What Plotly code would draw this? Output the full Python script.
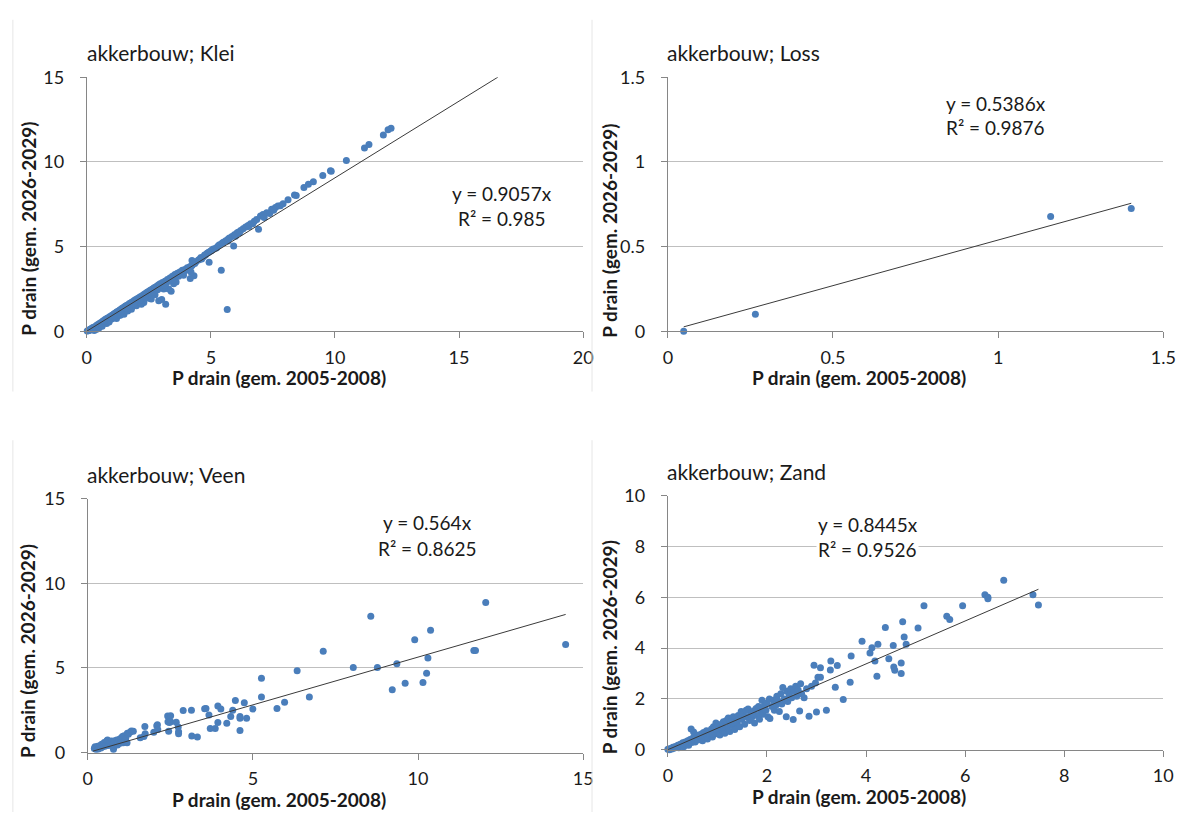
import plotly.graph_objects as go

W, H = 1194, 822

# ---------------- data ----------------
klei_x = [0.02,0.05,0.08,0.1,0.12,0.15,0.18,0.2,0.22,0.25,0.28,0.3,0.32,0.35,0.38,0.4,0.42,0.45,0.48,0.5,
          0.52,0.55,0.58,0.6,0.62,0.65,0.68,0.7,0.72,0.75,0.78,0.8,0.82,0.85,0.88,0.9,0.92,0.95,0.98,1.0,
          1.02,1.05,1.08,1.1,1.12,1.15,1.18,1.2,1.22,1.25,1.28,1.3,1.33,1.36,1.4,1.42,1.45,1.48,1.5,1.52,
          1.55,1.58,1.6,1.63,1.66,1.7,1.72,1.75,1.78,1.8,1.83,1.86,1.9,1.93,1.96,2.0,2.03,2.06,2.1,2.13,
          2.16,2.2,2.23,2.26,2.3,2.33,2.36,2.4,2.43,2.46,2.5,2.53,2.56,2.6,2.63,2.66,2.7,2.73,2.76,2.8,
          2.83,2.86,2.9,2.93,2.96,3.0,3.05,3.1,3.15,3.2,3.25,3.3,3.35,3.4,3.45,3.5,3.55,3.6,3.65,3.7,
          3.75,3.8,3.85,3.9,3.95,4.0,4.05,4.1,4.15,4.2,4.25,4.35,4.4,4.5,4.55,4.6,4.7,4.75,4.85,4.9,
          4.95,5.05,5.1,5.2,5.3,5.35,5.45,5.5,5.6,5.7,5.75,5.85,5.95,6.05,6.1,6.2,6.3,6.4,6.5,6.6,
          6.75,6.85,7.0,7.1,7.25,7.45,7.6,7.7,
          2.0,2.3,2.6,2.9,3.02,3.18,3.4,3.3,3.6,4.17,4.32,4.93,5.42,5.66,5.92,6.92,1.5,1.8,1.2,2.2,
          2.5,2.75,3.1,3.5,3.9,4.2,0.6,0.9,1.35,1.65,
          7.15,7.37,7.53,7.8,7.91,8.11,8.37,8.44,8.75,8.93,9.13,9.51,9.82,9.85,10.46,11.19,11.37,11.95,12.14,12.26,
          4.24,4.63,4.78,5.01,5.24,5.69,5.99,6.15,6.53,6.69,
          0.7,1.0,1.4,1.7,1.9,2.15,2.45,2.65,2.85,3.15,3.45,3.7,1.1,1.6,2.35]
klei_y = [0.02,0.03,0.06,0.05,0.1,0.12,0.1,0.17,0.12,0.22,0.2,0.05,0.27,0.25,0.1,0.36,0.3,0.4,0.35,0.2,
          0.47,0.42,0.52,0.45,0.3,0.6,0.55,0.64,0.5,0.7,0.62,0.45,0.76,0.7,0.8,0.6,0.86,0.78,0.9,0.72,
          0.95,0.88,1.0,0.8,1.05,0.98,1.1,0.9,1.15,1.05,1.2,0.95,1.25,1.15,1.32,1.1,1.37,1.25,1.42,1.2,
          1.47,1.35,1.52,1.3,1.57,1.45,1.63,1.4,1.68,1.55,1.73,1.5,1.8,1.65,1.86,1.7,1.92,1.75,1.98,1.8,
          2.04,1.9,2.1,1.85,2.17,2.0,2.23,2.05,2.3,2.1,2.36,2.2,2.42,2.25,2.48,2.3,2.55,2.4,2.6,2.45,
          2.67,2.5,2.75,2.55,2.8,2.65,2.87,2.75,2.95,2.85,3.05,2.95,3.15,3.05,3.25,3.15,3.35,3.25,3.42,3.35,
          3.5,3.45,3.6,3.5,3.65,3.6,3.75,3.7,3.8,3.82,3.9,4.0,4.1,4.2,4.25,4.35,4.4,4.5,4.6,4.65,
          4.7,4.8,4.85,4.9,5.05,5.1,5.2,5.25,5.35,5.45,5.5,5.6,5.7,5.8,5.85,5.95,6.05,6.15,6.25,6.35,
          6.5,6.6,6.8,6.9,7.0,7.2,7.3,7.4,
          1.5,1.7,1.9,1.8,1.88,1.59,2.36,2.5,2.9,3.12,3.28,4.08,3.6,1.28,5.04,6.02,1.0,1.3,0.75,1.6,
          1.95,2.15,2.5,2.8,3.3,3.5,0.35,0.55,0.95,1.2,
          6.72,6.95,7.15,7.41,7.53,7.76,8.05,8.01,8.49,8.68,8.83,9.2,9.48,9.44,10.08,10.82,11.02,11.59,11.9,11.99,
          4.18,4.27,4.5,4.75,4.94,5.33,5.61,5.8,6.19,6.34,
          0.58,0.82,1.18,1.45,1.62,1.85,2.12,2.28,2.45,2.7,3.0,3.25,0.85,1.35,2.0]
klei_slope = 0.9057
klei_r2 = "0.985"

loss_x = [0.048, 0.265, 1.159, 1.403]
loss_y = [0.0, 0.10, 0.677, 0.725]
loss_slope = 0.5386
loss_r2 = "0.9876"

veen_x = [0.2,0.22,0.25,0.28,0.3,0.32,0.35,0.38,0.4,0.42,0.45,0.48,0.5,0.52,0.55,0.58,0.6,0.62,0.65,0.68,
          0.7,0.72,0.75,0.78,0.79,0.8,0.82,0.85,0.88,0.9,0.92,0.95,0.98,1.0,1.02,1.05,1.08,1.1,1.12,1.15,
          1.19,1.2,1.23,1.28,1.32,1.38,1.59,1.73,1.74,1.7,2.0,2.09,2.11,2.12,2.42,2.43,2.47,2.51,2.51,2.68,
          2.45,2.74,2.75,2.75,2.89,3.14,3.15,3.32,3.54,3.58,3.67,3.71,3.86,3.94,3.94,4.03,4.21,4.33,4.39,4.47,
          4.61,4.61,4.61,4.74,4.81,5.0,5.26,5.26,5.73,5.96,6.34,6.71,7.13,8.04,8.57,8.77,9.22,9.36,9.61,9.9,
          10.15,10.26,10.3,10.38,11.69,11.74,12.05,14.47]
veen_y = [0.25,0.35,0.2,0.3,0.38,0.22,0.3,0.42,0.28,0.5,0.35,0.45,0.6,0.38,0.48,0.7,0.75,0.42,0.55,0.62,
          0.45,0.68,0.5,0.2,0.35,0.6,0.7,0.55,0.75,0.45,0.62,0.78,0.55,0.85,0.65,0.95,0.58,1.0,0.7,0.84,
          0.59,1.15,1.09,1.2,1.28,1.26,0.88,1.55,1.11,0.95,1.21,1.59,1.65,1.36,2.16,1.82,1.78,2.18,1.82,1.8,
          1.26,1.51,1.23,1.11,2.49,2.51,0.98,0.92,2.59,2.61,2.22,1.42,1.42,2.76,1.78,2.57,1.74,2.13,2.51,3.08,
          2.13,2.03,1.3,2.95,2.03,2.57,4.39,3.28,2.61,2.97,4.83,3.28,5.98,5.02,8.05,5.02,3.72,5.25,4.10,6.67,
          4.14,4.69,5.59,7.22,6.03,6.03,8.87,6.38]
veen_slope = 0.564
veen_r2 = "0.8625"

zand_x = [0.0,0.03,0.05,0.08,0.1,0.12,0.15,0.18,0.2,0.22,0.25,0.28,0.3,0.32,0.35,0.38,0.4,0.42,0.45,0.47,
          0.48,0.5,0.52,0.55,0.57,0.6,0.62,0.65,0.68,0.7,0.72,0.75,0.78,0.8,0.82,0.85,0.88,0.9,0.92,0.95,
          0.97,1.0,1.02,1.05,1.08,1.1,1.12,1.15,1.18,1.2,1.22,1.25,1.28,1.3,1.32,1.35,1.38,1.4,1.42,1.45,
          1.48,1.5,1.52,1.55,1.58,1.6,1.62,1.65,1.68,1.7,1.73,1.75,1.78,1.8,1.83,1.85,1.88,1.9,1.92,1.95,
          1.98,2.0,2.02,2.05,2.06,2.1,2.13,2.15,2.18,2.2,2.23,2.25,2.28,2.3,2.32,2.35,2.39,2.4,2.42,2.45,
          2.48,2.5,2.53,2.55,2.58,2.6,2.63,2.66,2.68,2.7,2.75,2.8,2.85,2.9,2.95,2.98,3.0,3.03,3.08,3.08,
          3.2,3.28,3.29,3.38,3.42,3.54,3.68,3.7,3.92,4.08,4.12,4.18,4.22,4.24,4.39,4.46,4.55,4.56,4.58,4.71,
          4.71,4.74,4.77,4.81,5.05,5.17,5.63,5.69,5.95,6.40,6.46,6.46,6.78,7.37,7.48,
          0.6,0.9,1.1,1.3,1.5,1.7,0.35,0.65,0.95,1.25,1.45,1.95,2.2]
zand_y = [0.02,0.0,0.05,0.03,0.1,0.06,0.13,0.1,0.18,0.08,0.22,0.15,0.27,0.12,0.3,0.2,0.35,0.18,0.4,0.82,
          0.28,0.45,0.7,0.3,0.5,0.38,0.58,0.45,0.62,0.35,0.68,0.5,0.75,0.42,0.72,0.55,0.82,0.5,0.9,0.62,
          1.05,0.7,0.95,0.58,1.0,0.78,1.1,0.65,1.15,0.85,1.25,0.72,1.2,0.95,1.3,0.8,1.1,1.0,1.35,0.9,
          1.5,1.2,1.4,1.0,1.55,1.3,1.6,1.15,1.45,1.3,1.52,1.05,1.62,1.35,1.7,1.2,1.5,1.95,1.4,1.75,
          1.55,1.85,1.3,2.0,1.23,1.7,1.95,1.55,1.75,2.1,1.9,1.5,2.2,1.8,2.45,2.0,1.3,2.3,1.9,2.15,
          2.4,2.05,1.19,2.3,2.5,2.1,2.35,1.52,2.6,2.2,2.05,2.4,1.32,2.5,3.33,2.63,1.48,2.85,2.85,3.23,
          1.55,3.14,3.49,2.46,3.32,1.98,2.66,3.69,4.27,3.81,4.01,3.49,2.89,4.15,4.81,3.58,4.10,3.26,3.13,3.41,
          3.0,5.04,4.44,4.15,4.79,5.67,5.25,5.13,5.67,6.10,6.0,5.94,6.67,6.10,5.70,
          0.4,0.62,0.88,1.05,1.28,1.42,0.25,0.55,0.82,1.08,1.2,1.6,1.95]
zand_slope = 0.8445
zand_r2 = "0.9526"

# ---------------- styling ----------------
FONT = "Lato, 'Open Sans', sans-serif"
BLUE = "#4A7EBB"
GRID = "#BFBFBF"
AXIS = "#868686"
TXT = "#1a1a1a"

# px boxes: (left, right, top, bottom)
panels = [
    dict(x=klei_x, y=klei_y, slope=klei_slope, r2=klei_r2, title="akkerbouw; Klei",
         box=(83, 587, 67, 328), xr=[0, 20], xd=5, yr=[0, 15], yd=5, fit=(0.0, None),
         title_pos=(81, 42), eq_pos=(505, 186, 212), xt_pos=(278, 376), yt_pos=(23, 223)),
    dict(x=loss_x, y=loss_y, slope=loss_slope, r2=loss_r2, title="akkerbouw; Loss",
         box=(673, 1176, 67, 328), xr=[0, 1.5], xd=0.5, yr=[0, 1.5], yd=0.5, fit=(min(loss_x), max(loss_x)),
         title_pos=(670, 42), eq_pos=(1006, 94, 119), xt_pos=(867, 376), yt_pos=(614, 225)),
    dict(x=veen_x, y=veen_y, slope=veen_slope, r2=veen_r2, title="akkerbouw; Veen",
         box=(84, 587, 500, 761), xr=[0, 15], xd=5, yr=[0, 15], yd=5, fit=(0.16, max(veen_x)),
         title_pos=(81, 475), eq_pos=(429, 525, 551), xt_pos=(278, 809), yt_pos=(23, 657)),
    dict(x=zand_x, y=zand_y, slope=zand_slope, r2=zand_r2, title="akkerbouw; Zand",
         box=(673, 1176, 497, 758), xr=[0, 10], xd=2, yr=[0, 10], yd=2, fit=(0.0, max(zand_x)),
         title_pos=(670, 472), eq_pos=(876, 527, 552), xt_pos=(867, 806), yt_pos=(614, 653)),
]

fig = go.Figure()
annotations = []
shapes = []
layout_axes = {}

def px_x(v):
    return v / W

def px_y(v):
    return 1 - v / H

for i, p in enumerate(panels, start=1):
    sfx = "" if i == 1 else str(i)
    xa, ya = "x" + sfx, "y" + sfx
    l, r, t, b = p["box"]
    fig.add_trace(go.Scatter(
        x=p["x"], y=p["y"], mode="markers", xaxis=xa, yaxis=ya,
        marker=dict(color=BLUE, size=7, line=dict(width=0)),
        cliponaxis=False, showlegend=False, hoverinfo="x+y"))
    x0, x1 = p["fit"]
    if x1 is None:
        x1 = p["yr"][1] / p["slope"]
    fig.add_trace(go.Scatter(
        x=[x0, x1], y=[p["slope"] * x0, p["slope"] * x1], mode="lines",
        xaxis=xa, yaxis=ya, line=dict(color="#3a3a3a", width=1),
        showlegend=False, hoverinfo="skip"))
    layout_axes["xaxis" + sfx] = dict(
        domain=[px_x(l), px_x(r)], range=p["xr"], dtick=p["xd"], tick0=0, anchor=ya,
        showgrid=False, zeroline=False, showline=True, linecolor=AXIS, linewidth=1,
        ticks="outside", ticklen=6, tickcolor=AXIS, tickwidth=1, ticklabelstandoff=4,
        tickfont=dict(family=FONT, size=18, color=TXT), fixedrange=True)
    layout_axes["yaxis" + sfx] = dict(
        domain=[px_y(b), px_y(t)], range=p["yr"], dtick=p["yd"], tick0=0, anchor=xa,
        showgrid=True, gridcolor=GRID, gridwidth=1, zeroline=False, showline=True,
        linecolor=AXIS, linewidth=1, ticks="outside", ticklen=6, tickcolor=AXIS, tickwidth=1,
        ticklabelstandoff=12, tickfont=dict(family=FONT, size=18, color=TXT), fixedrange=True)
    # panel title
    tx, ty = p["title_pos"]
    annotations.append(dict(text=p["title"], xref="paper", yref="paper", x=px_x(tx), y=px_y(ty),
                            xanchor="left", yanchor="middle", showarrow=False,
                            font=dict(family=FONT, size=21, color=TXT)))
    # trendline equation
    ex, ey1, ey2 = p["eq_pos"]
    annotations.append(dict(text=f"y = {p['slope']}x", xref="paper", yref="paper",
                            x=px_x(ex), y=px_y(ey1), xanchor="center", yanchor="middle",
                            showarrow=False, bgcolor="white",
                            font=dict(family=FONT, size=19, color=TXT)))
    annotations.append(dict(text=f"R² = {p['r2']}", xref="paper", yref="paper",
                            x=px_x(ex), y=px_y(ey2), xanchor="center", yanchor="middle",
                            showarrow=False, bgcolor="white",
                            font=dict(family=FONT, size=19, color=TXT)))
    # axis titles
    xtx, xty = p["xt_pos"]
    annotations.append(dict(text="<b>P drain (gem. 2005-2008)</b>", xref="paper", yref="paper",
                            x=px_x(xtx), y=px_y(xty), xanchor="center", yanchor="middle",
                            showarrow=False, font=dict(family=FONT, size=19, color=TXT)))
    ytx, yty = p["yt_pos"]
    annotations.append(dict(text="<b>P drain (gem. 2026-2029)</b>", xref="paper", yref="paper",
                            x=px_x(ytx), y=px_y(yty), xanchor="center", yanchor="middle",
                            textangle=-90, showarrow=False,
                            font=dict(family=FONT, size=19, color=TXT)))

# faint chart frames
for fx in (8, 596):
    for (fy0, fy1) in ((8, 390), (440, 822)):
        shapes.append(dict(type="line", xref="paper", yref="paper",
                           x0=px_x(fx), x1=px_x(fx), y0=px_y(fy0), y1=px_y(fy1),
                           line=dict(color="#E6E6E6", width=1)))

fig.update_layout(width=W, height=H, margin=dict(l=0, r=0, t=0, b=0),
                  paper_bgcolor="white", plot_bgcolor="white",
                  annotations=annotations, shapes=shapes, **layout_axes)

fig.write_html("out.html", config={"displayModeBar": False})
